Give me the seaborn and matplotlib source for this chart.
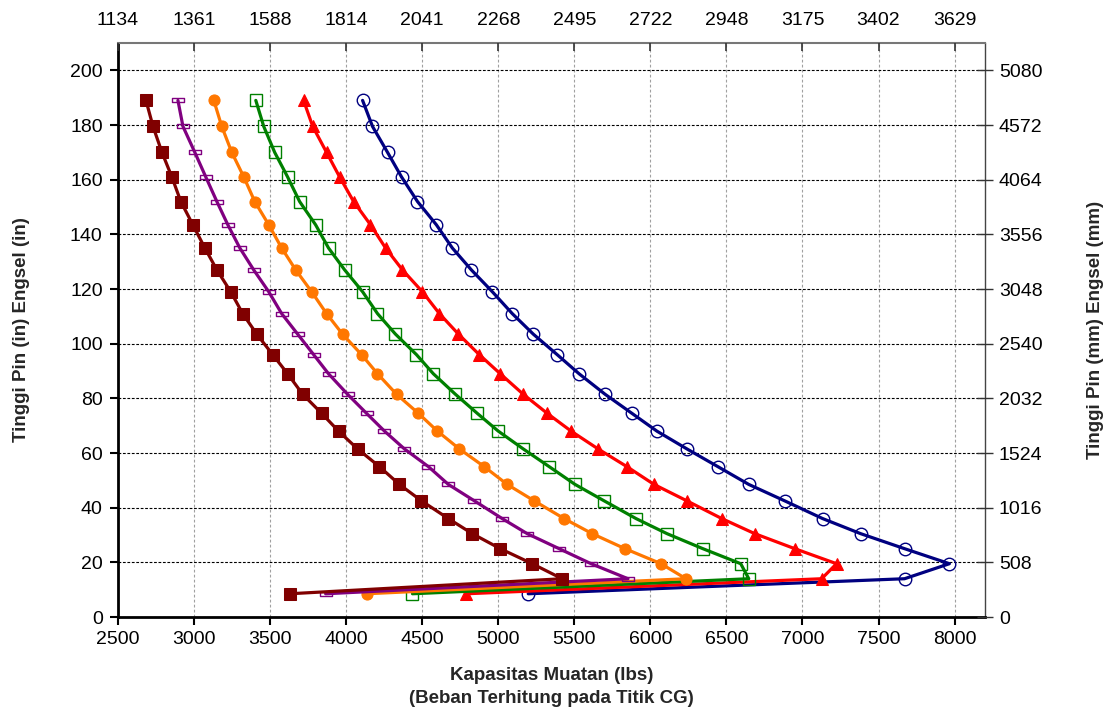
import matplotlib
matplotlib.use("Agg")
import matplotlib.pyplot as plt
import seaborn as sns
import pandas as pd
import numpy as np
from matplotlib.path import Path

# ---------------- data ----------------
heights_in = [189, 179.5, 170, 161, 152, 143.5, 135, 127, 119, 111, 103.5, 96, 89,
              81.5, 74.5, 68, 61.5, 55, 48.5, 42.5, 36, 30.5, 25, 19.5, 14, 8.5]

blue_lbs = [4108, 4173, 4272, 4364, 4469, 4593, 4698, 4823, 4961, 5092, 5230, 5387, 5531,
            5702, 5879, 6043, 6240, 6444, 6647, 6883, 7133, 7382, 7671, 7966, 7671, 5197]
red_lbs = [3720, 3780, 3871, 3957, 4049, 4160, 4259, 4370, 4501, 4613, 4738, 4875, 5013,
           5164, 5322, 5479, 5656, 5846, 6024, 6240, 6470, 6686, 6949, 7224, 7126, 4790]
green_lbs = [3406, 3458, 3530, 3615, 3694, 3799, 3884, 3990, 4108, 4206, 4324, 4462, 4573,
             4718, 4862, 5000, 5164, 5335, 5505, 5696, 5906, 6109, 6345, 6594, 6647, 4436]
orange_lbs = [3130, 3182, 3248, 3327, 3399, 3491, 3576, 3668, 3773, 3871, 3976, 4101, 4206,
              4331, 4475, 4600, 4744, 4908, 5059, 5236, 5433, 5617, 5833, 6070, 6234, 4134]
purple_lbs = [2894, 2927, 3005, 3077, 3150, 3222, 3301, 3392, 3491, 3576, 3681, 3786, 3884,
              4009, 4134, 4252, 4383, 4541, 4672, 4843, 5026, 5190, 5400, 5610, 5853, 3865]
maroon_lbs = [2684, 2730, 2789, 2854, 2913, 2992, 3071, 3150, 3241, 3320, 3412, 3517, 3615,
              3714, 3839, 3950, 4075, 4219, 4350, 4495, 4672, 4829, 5013, 5223, 5420, 3629]

x_ticks_lbs = [2500, 3000, 3500, 4000, 4500, 5000, 5500, 6000, 6500, 7000, 7500, 8000]
x_ticklabels_kg = ["1134", "1361", "1588", "1814", "2041", "2268", "2495", "2722",
                   "2948", "3175", "3402", "3629"]
y_ticks_in = [0, 20, 40, 60, 80, 100, 120, 140, 160, 180, 200]
y_ticklabels_mm = ["0", "508", "1016", "1524", "2032", "2540", "3048", "3556",
                   "4064", "4572", "5080"]

# ---------------- style ----------------
sns.set_theme(style="white")
plt.rcParams['font.family'] = ['Liberation Sans', 'DejaVu Sans']

fig = plt.figure(figsize=(11.13, 7.11), dpi=100)
ax = fig.add_axes([118 / 1113, 1 - 617 / 711, (985 - 118) / 1113, (617 - 43) / 711])

dash_marker = Path([(-1, -0.32), (1, -0.32), (1, 0.32), (-1, 0.32), (-1, -0.32)],
                   [Path.MOVETO, Path.LINETO, Path.LINETO, Path.LINETO, Path.CLOSEPOLY])

series = [
    (blue_lbs, "#000080", dict(marker="o", markersize=9, markerfacecolor="none",
                               markeredgecolor="#000080", markeredgewidth=1.0)),
    (red_lbs, "#FF0000", dict(marker="^", markersize=9, markerfacecolor="#FF0000",
                              markeredgecolor="#FF0000")),
    (green_lbs, "#008000", dict(marker="s", markersize=9, markerfacecolor="none",
                                markeredgecolor="#008000", markeredgewidth=1.0)),
    (orange_lbs, "#FF7700", dict(marker="o", markersize=8, markerfacecolor="#FF7700",
                                 markeredgecolor="#FF7700")),
    (purple_lbs, "#800080", dict(marker=dash_marker, markersize=9, markerfacecolor="none",
                                 markeredgecolor="#800080", markeredgewidth=1.0)),
    (maroon_lbs, "#800000", dict(marker="s", markersize=8, markerfacecolor="#800000",
                                 markeredgecolor="#800000")),
]

for i, (xs, color, mk) in enumerate(series):
    df = pd.DataFrame({"lbs": xs, "inch": heights_in})
    sns.lineplot(data=df, x="lbs", y="inch", sort=False, estimator=None, ax=ax,
                 color=color, linewidth=2.3, zorder=3 + i, **mk)

ax.set_xlim(2500, 8200)
ax.set_ylim(0, 210)
ax.set_xticks(x_ticks_lbs)
ax.set_yticks(y_ticks_in)
ax.tick_params(axis="both", labelsize=14, colors="black", direction="out",
               length=6, width=1.5)
ax.tick_params(axis="x", pad=4)
ax.tick_params(axis="y", pad=5)

ax.yaxis.grid(True, color="black", linestyle=(0, (2.5, 1.5)), linewidth=0.8)
ax.xaxis.grid(True, color="#a0a0a0", linestyle=(0, (2.5, 2)), linewidth=0.8)
ax.set_axisbelow(True)

for s in ["left", "bottom"]:
    ax.spines[s].set_color("black")
    ax.spines[s].set_linewidth(2)
ax.spines["top"].set_color("#777777")
ax.spines["top"].set_linewidth(1.5)
ax.spines["right"].set_color("#444444")
ax.spines["right"].set_linewidth(1.0)

ax.set_xlabel("Kapasitas Muatan (lbs)\n(Beban Terhitung pada Titik CG)",
              fontsize=13.5, fontweight="bold", labelpad=14, linespacing=1.45)
ax.set_ylabel("Tinggi Pin (in) Engsel (in)", fontsize=13.5, fontweight="bold", labelpad=29)

# top axis (kg)
axt = ax.twiny()
axt.set_xlim(ax.get_xlim())
axt.set_xticks(x_ticks_lbs)
axt.set_xticklabels(x_ticklabels_kg)
axt.tick_params(axis="x", labelsize=14, direction="in", length=6, width=1.2,
                color="#333333", labelcolor="black", pad=10)
for s in axt.spines.values():
    s.set_visible(False)
axt.grid(False)

# right axis (mm)
axr = ax.twinx()
axr.set_ylim(ax.get_ylim())
axr.set_yticks(y_ticks_in)
axr.set_yticklabels(y_ticklabels_mm)
axr.tick_params(axis="y", labelsize=14, direction="inout", length=12, width=1.0,
                color="#333333", labelcolor="black", pad=4)
for s in axr.spines.values():
    s.set_visible(False)
axr.grid(False)
axr.set_ylabel("Tinggi Pin (mm) Engsel (mm)", fontsize=13.5, fontweight="bold", labelpad=32)

fig.savefig("out.png", dpi=100)
